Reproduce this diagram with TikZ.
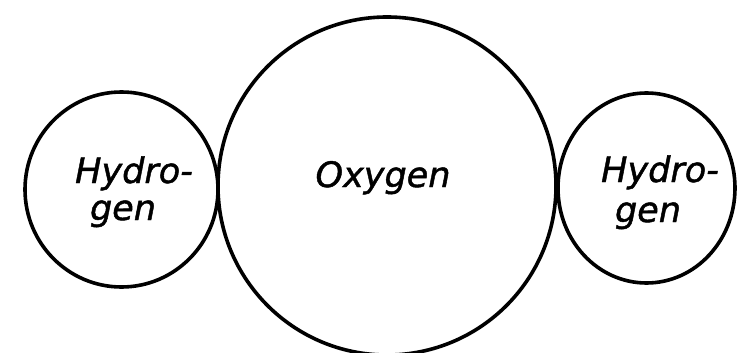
\documentclass[tikz,border=0pt]{standalone}
\usepackage{fontspec}
\newfontfamily\handfont[FakeBold=1.3,ItalicFeatures={FakeBold=1.3}]{DejaVu Sans}
\usetikzlibrary{shapes.geometric}
\begin{document}
\begin{tikzpicture}[x=1pt,y=-1pt,
  atom/.style={draw=black, line width=3.6pt, ellipse, inner sep=0pt},
  lbl/.style={anchor=base, inner sep=0pt, font=\handfont\itshape\fontsize{35}{40}\selectfont}]
\useasboundingbox (0,0) rectangle (739,353);
\node[atom, minimum width=193pt, minimum height=195pt] (h1) at (121.5,189.5) {};
\node[atom, minimum width=338pt, minimum height=338pt] (o) at (387,186) {};
\node[atom, minimum width=177pt, minimum height=190pt] (h2) at (646.5,188) {};
\node[lbl] (ot) at (383,187) {Oxygen};
\node[lbl] (h1a) at (134,183) {Hydro-};
\node[lbl] (h1b) at (123,220) {gen};
\node[lbl] (h2a) at (660,182) {Hydro-};
\node[lbl] (h2b) at (648,222) {gen};
\end{tikzpicture}
\end{document}
